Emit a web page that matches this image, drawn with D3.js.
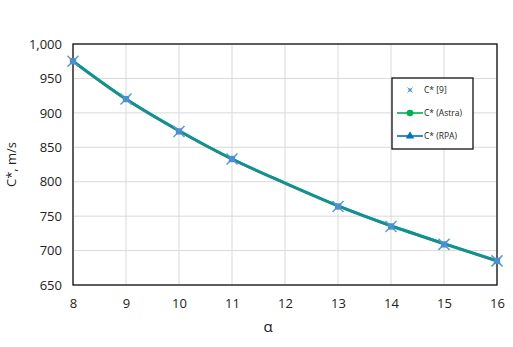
<!DOCTYPE html>
<html>
<head>
<meta charset="utf-8">
<script src="https://cdn.jsdelivr.net/npm/d3@7"></script>
<style>
  body { margin: 0; background: #fff; }
  text { font-family: "Open Sans", "Liberation Sans", sans-serif; fill: #222; }
</style>
</head>
<body>
<div id="chart"></div>
<script>
// C* vs alpha

var alphas = [8, 9, 10, 11, 12, 13, 14, 15, 16];
var refAlphas = [8, 9, 10, 11, 13, 14, 15, 16];
var cRef = [975, 920, 873, 833, 764, 735, 709, 685];
var cAstra = [975, 920, 874, 833, 798, 765, 736, 710, 685];
var cRPA = [975, 920, 874, 833, 798, 765, 736, 710, 685];
var yTicks = [650, 700, 750, 800, 850, 900, 950, 1000];
var xTicks = [8, 9, 10, 11, 12, 13, 14, 15, 16];

var svg = d3.select('#chart').append('svg')
  .attr('width', 513).attr('height', 347);

var margin = { top: 44, right: 16, bottom: 62, left: 73 };
var width = 513 - margin.left - margin.right,
  height = 347 - margin.top - margin.bottom;

var x = d3.scaleLinear().domain([8, 16]).range([0, width]);
var y = d3.scaleLinear().domain([650, 1000]).range([height, 0]);

var g = svg.append('g')
  .attr('transform', 'translate(' + margin.left + ',' + margin.top + ')');

// grid
g.selectAll('.vgrid').data(xTicks).enter().append('line')
  .attr('x1', function(d) { return x(d); }).attr('x2', function(d) { return x(d); })
  .attr('y1', 0).attr('y2', height)
  .attr('stroke', '#d9d9d9').attr('stroke-width', 1);
g.selectAll('.hgrid').data(yTicks).enter().append('line')
  .attr('y1', function(d) { return y(d); }).attr('y2', function(d) { return y(d); })
  .attr('x1', 0).attr('x2', width)
  .attr('stroke', '#d9d9d9').attr('stroke-width', 1);

// axes
var xAxis = g.append('g')
  .attr('transform', 'translate(0,' + height + ')')
  .call(d3.axisBottom(x).tickValues(xTicks).tickSize(0).tickPadding(14).tickFormat(d3.format('d')));
var yAxis = g.append('g')
  .call(d3.axisLeft(y).tickValues(yTicks).tickSize(0).tickPadding(11).tickFormat(d3.format(',')));
[xAxis, yAxis].forEach(function(a) {
  a.select('.domain').remove();
  a.selectAll('text').style('font-size', '13px').attr('fill', '#222');
});

// frame
g.append('rect').attr('width', width).attr('height', height)
  .attr('fill', 'none').attr('stroke', '#111').attr('stroke-width', 1.3);

// axis titles
g.append('text')
  .attr('transform', 'rotate(-90)')
  .attr('x', -height / 2).attr('y', -57)
  .attr('text-anchor', 'middle')
  .style('font-size', '13px')
  .text('C*, m/s');
g.append('text')
  .attr('x', x(12) - 17).attr('y', height + 47)
  .attr('text-anchor', 'middle')
  .style('font-size', '15px')
  .text('α');

// lines
var line = d3.line()
  .x(function(d, i) { return x(alphas[i]); })
  .y(function(d) { return y(d); })
  .curve(d3.curveMonotoneX);

g.append('path').datum(cAstra).attr('d', line)
  .attr('fill', 'none').attr('stroke', '#00a060').attr('stroke-width', 3);
g.append('path').datum(cRPA).attr('d', line)
  .attr('fill', 'none').attr('stroke', '#178c9c').attr('stroke-width', 2.6).attr('opacity', 0.9);

// star markers (x with filled centre)
function drawStar(sel, s, w) {
  sel.append('path')
    .attr('d', 'M' + (-s) + ',' + (-s) + 'L' + s + ',' + s + 'M' + (-s) + ',' + s + 'L' + s + ',' + (-s))
    .attr('fill', 'none').attr('stroke', '#5b9bd5').attr('stroke-width', w);
  sel.append('path')
    .attr('d', d3.symbol(d3.symbolSquare, s * s * 1.3)())
    .attr('fill', '#4a8fcf');
}
g.selectAll('.mk').data(cRef).enter().append('g')
  .attr('transform', function(d, i) { return 'translate(' + x(refAlphas[i]) + ',' + y(d) + ')'; })
  .each(function() { drawStar(d3.select(this), 5.5, 1.5); });

// legend
var lg = svg.append('g').attr('transform', 'translate(392,78)');
lg.append('rect').attr('width', 81).attr('height', 71)
  .attr('fill', '#fff').attr('stroke', '#111').attr('stroke-width', 1.3);
var legendItems = ['C* [9]', 'C* (Astra)', 'C* (RPA)'];
var legendColors = ['#5b9bd5', '#00b050', '#0070c0'];
legendItems.forEach(function(name, i) {
  var yy = 12 + i * 23;
  if (i === 0) {
    drawStar(lg.append('g').attr('transform', 'translate(18,' + yy + ')'), 2.5, 1);
  } else {
    lg.append('line').attr('x1', 5).attr('x2', 31).attr('y1', yy).attr('y2', yy)
      .attr('stroke', legendColors[i]).attr('stroke-width', 1.6);
    if (i === 1) {
      lg.append('circle').attr('cx', 18).attr('cy', yy).attr('r', 3.3).attr('fill', legendColors[i]);
    } else {
      lg.append('path').attr('transform', 'translate(18,' + yy + ')')
        .attr('d', d3.symbol(d3.symbolTriangle, 30)()).attr('fill', legendColors[i]);
    }
  }
  lg.append('text').attr('x', 32).attr('y', yy + 3)
    .style('font-size', '8.5px').text(name);
});
</script>
</body>
</html>
